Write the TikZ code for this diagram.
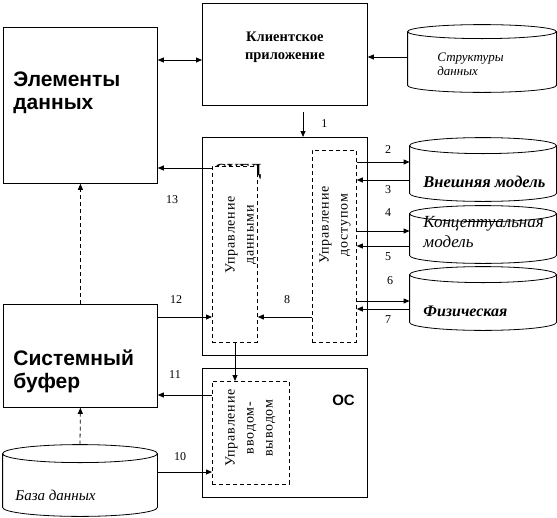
\documentclass[tikz,border=0pt]{standalone}
\usepackage{fontspec}
\setmainfont{Liberation Serif}
\setsansfont{Liberation Sans}
\newfontfamily\widefont[LetterSpace=6]{Liberation Serif}
\usetikzlibrary{positioning,shapes.geometric,arrows.meta,calc}

% cylinder outline over a named node
\newcommand{\dbdraw}[2]{%
  \draw let \p1=(#1.north west), \p2=(#1.south east), \n1={(\x2-\x1)/2} in
    (\x1,\y1-#2pt) -- (\x1,\y2+#2pt) arc[start angle=180,end angle=360,x radius=\n1,y radius=#2pt] -- (\x2,\y1-#2pt)
    (\x1+\n1,\y1-#2pt) ellipse[x radius=\n1,y radius=#2pt];}

\begin{document}
\begin{tikzpicture}[x=1pt,y=-1pt,line width=0.8pt,
  blk/.style={draw,anchor=north west,inner sep=0pt},
  sub/.style={draw,dash pattern=on 4pt off 3pt,fill=white,anchor=north west,inner sep=0pt},
  db/.style={inner sep=0pt},
  big/.style={font=\sffamily\bfseries\fontsize{21}{22.5}\selectfont,align=left,inner sep=0pt,anchor=base west},
  vert/.style={rotate=90,font=\widefont\fontsize{14}{19}\selectfont,align=center,inner sep=0pt},
  dbt/.style={align=left,inner sep=0pt,anchor=base west},
  num/.style={font=\fontsize{12}{12}\selectfont,inner sep=0pt},
  arr/.style={-{Triangle[length=6pt,width=5pt]}},
  darr/.style={arr,dash pattern=on 4pt off 3pt}]
\useasboundingbox (0,0) rectangle (557,517);
% blocks
\node[blk,minimum width=154,minimum height=156] (elem) at (3,27) {};
\node[blk,minimum width=165,minimum height=102] (klient) at (202,3) {};
\node[blk,minimum width=165,minimum height=218] (subd) at (202,137) {};
\node[blk,minimum width=165,minimum height=129] (os) at (202,368) {};
\node[blk,minimum width=154,minimum height=103] (bufer) at (3,304) {};
\node[big] (telem) at (13,109) {Элементы\\данных};
\node[big] (tbufer) at (13,388) {Системный\\буфер};
\node[font=\bfseries\fontsize{14.5}{18}\selectfont,align=center,inner sep=0pt] (tklient) at ([yshift=-44pt]klient.north) {Клиентское\\приложение};
\node[font=\sffamily\bfseries\fontsize{15}{15}\selectfont,inner sep=0pt,anchor=base] (tos) at (343.5,405) {ОС};
\node[font=\bfseries\fontsize{17}{17}\selectfont,inner sep=0pt,anchor=base] (tsubd) at (238,175) {СУБД};
% modules
\node[sub,minimum width=45,minimum height=176] (dan) at (212,166) {};
\node[sub,minimum width=44,minimum height=192] (dost) at (312,150) {};
\node[sub,minimum width=77,minimum height=103] (vv) at (212,381) {};
\node[vert] at (241,235) {Управление\\данными};
\node[vert] at (335,225) {Управление\\доступом};
\node[vert] at (250.5,428) {Управление\\вводом-\\выводом};
% databases
\node[db,minimum width=148,minimum height=67] (struct) at (482,58.5) {};
\node[db,minimum width=146,minimum height=63] (vnesh) at (483,169.5) {};
\node[db,minimum width=146,minimum height=57] (konc) at (483,234.5) {};
\node[db,minimum width=146,minimum height=63] (fiz) at (483,298.5) {};
\node[db,minimum width=154,minimum height=71] (baza) at (80,480.5) {};
\dbdraw{struct}{7}
\dbdraw{vnesh}{8}
\dbdraw{konc}{8}
\dbdraw{fiz}{8}
\dbdraw{baza}{9}
\node[dbt,font=\itshape\fontsize{13}{13.5}\selectfont] at (437,75) {Структуры\\данных};
\node[dbt,font=\bfseries\itshape\fontsize{16.5}{16.5}\selectfont] at (423,187) {Внешняя модель};
\node[dbt,font=\itshape\fontsize{17}{20}\selectfont] at (423,247) {Концептуальная\\модель};
\node[dbt,font=\bfseries\itshape\fontsize{16}{16}\selectfont] at (423,316) {Физическая};
\node[dbt,font=\itshape\fontsize{15}{15}\selectfont] at (15,500) {База данных};
% connectors
\coordinate (c1) at (303,112);
\draw[{Triangle[length=6pt,width=5pt]}-{Triangle[length=6pt,width=5pt]}] (elem.east |- 0,60) -- (klient.west |- 0,60);
\draw[arr] (struct.west |- 0,57) -- (klient.east |- 0,57);
\draw[arr] (c1) -- (subd.north -| c1) node[num,pos=0.45,right=18pt] {1};
\draw[arr] (dost.east |- 0,162) -- (vnesh.west |- 0,162);
\draw[arr] (vnesh.west |- 0,180) -- (dost.east |- 0,180);
\draw[arr] (dost.east |- 0,231) -- (konc.west |- 0,231);
\draw[arr] (konc.west |- 0,246) -- (dost.east |- 0,246);
\draw[arr] (dost.east |- 0,301) -- (fiz.west |- 0,301);
\draw[arr] (fiz.west |- 0,309) -- (dost.east |- 0,309);
\draw[arr] (dost.west |- 0,317) -- (dan.east |- 0,317);
\draw[arr] (dan.west |- 0,168) -- (elem.east |- 0,168);
\draw[arr] (bufer.east |- 0,317) -- (dan.west |- 0,317);
\draw[arr] (dan.south -| 235,0) -- (vv.north -| 235,0);
\draw[arr] (vv.west |- 0,395) -- (bufer.east |- 0,395);
\draw[arr] (baza.east |- 0,472) -- (vv.west |- 0,472);
\draw[darr] (bufer.north) -- (elem.south);
\draw[darr] (baza.north) -- (bufer.south);
% numbers
\node[num] at (388,150) {2};
\node[num] at (388,190) {3};
\node[num] at (388,213) {4};
\node[num] at (388,257) {5};
\node[num] at (390,281) {6};
\node[num] at (388,320) {7};
\node[num] at (287,300) {8};
\node[num] at (180,457) {10};
\node[num] at (175,375) {11};
\node[num] at (176,300) {12};
\node[num] at (172,200) {13};
\end{tikzpicture}
\end{document}
